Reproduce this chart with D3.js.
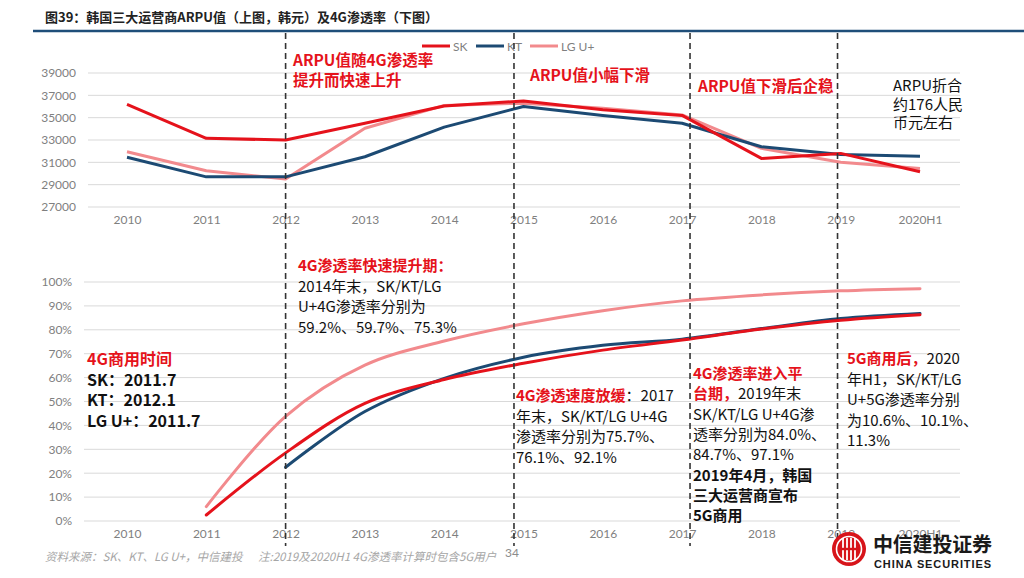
<!DOCTYPE html>
<html>
<head>
<meta charset="utf-8">
<script src="https://d3js.org/d3.v7.min.js"></script>
<style>
  body { margin: 0; background: #fff; }
  svg { display: block; font-family: "Noto Sans CJK SC", sans-serif; }
</style>
</head>
<body>
<div id="chart"></div>
<script>
// categories and values
const years = ['2010', '2011', '2012', '2013', '2014', '2015', '2016', '2017', '2018', '2019', '2020H1'];

const arpuSK = [36200, 33150, 33000, 34500, 36050, 36500, 35700, 35200, 31350, 31800, 30150];
const arpuKT = [31450, 29700, 29700, 31500, 34150, 36000, 35200, 34500, 32400, 31700, 31550];
const arpuLG = [31950, 30250, 29500, 34050, 36100, 36300, 35850, 35250, 32250, 31000, 30450];

const penSK = [null, 2.5, 28.5, 49.2, 59.2, 66.0, 71.5, 75.7, 80.3, 84.0, 86.3];
const penKT = [null, null, 22.5, 45.8, 59.7, 68.5, 73.5, 76.1, 80.5, 84.7, 86.8];
const penLG = [null, 6.0, 43.8, 65.2, 75.3, 82.5, 88.0, 92.1, 94.6, 96.3, 97.2];

const arpuTicks = [27000, 29000, 31000, 33000, 35000, 37000, 39000];
const penTicks = [0, 10, 20, 30, 40, 50, 60, 70, 80, 90, 100];

// period dividers, as fractional category positions
const dividers = [2, 4.88, 7.1, 8.96];

const seriesNames = ['SK', 'KT', 'LG U+'];
const colors = { 'SK': '#e5121b', 'KT': '#1c4a73', 'LG U+': '#f28a8d' };
const RED = '#e5121b';

const W = 1024, H = 578;
const svg = d3.select('#chart').append('svg')
  .attr('width', W).attr('height', H)
  .attr('viewBox', `0 0 ${W} ${H}`);

svg.append('rect').attr('width', W).attr('height', H).attr('fill', '#fff');

// title
svg.append('text')
  .attr('x', 45).attr('y', 22)
  .attr('font-size', 13).attr('font-weight', 'bold').attr('fill', '#222')
  .text('图39：韩国三大运营商ARPU值（上图，韩元）及4G渗透率（下图）');
svg.append('line')
  .attr('x1', 33).attr('x2', W).attr('y1', 31).attr('y2', 31)
  .attr('stroke', '#1f4e79').attr('stroke-width', 2.5);

// shared x
const x = d3.scalePoint().domain(years).range([127, 920]);
const xi = d3.scaleLinear().domain([0, years.length - 1]).range([127, 920]);
const gridX = [88, 960];

// ---------- top chart: ARPU ----------
const yTop = d3.scaleLinear().domain([27000, 39000]).range([207, 73]);

const topG = svg.append('g');
topG.append('g').selectAll('line').data(arpuTicks).join('line')
  .attr('x1', gridX[0]).attr('x2', gridX[1])
  .attr('y1', d => yTop(d)).attr('y2', d => yTop(d))
  .attr('stroke', '#d9d9d9').attr('stroke-width', 1);

topG.append('g').call(d3.axisLeft(yTop).tickValues(arpuTicks).tickSize(0).tickPadding(0).tickFormat(d3.format('d')))
  .attr('transform', 'translate(76,0)')
  .call(g => g.select('.domain').remove())
  .call(g => g.selectAll('text').attr('fill', '#7f7f7f').attr('font-size', 12).attr('font-family', 'Lato, sans-serif'));

topG.append('g').call(d3.axisBottom(x).tickSize(0).tickPadding(0))
  .attr('transform', 'translate(0,215)')
  .call(g => g.select('.domain').remove())
  .call(g => g.selectAll('text').attr('fill', '#7f7f7f').attr('font-size', 12).attr('font-family', 'Lato, sans-serif'));

const arpuData = { 'SK': arpuSK, 'KT': arpuKT, 'LG U+': arpuLG };
const lineTop = d3.line().x((d, i) => x(years[i])).y(d => yTop(d));
['LG U+', 'KT', 'SK'].forEach(name => {
  topG.append('path')
    .attr('d', lineTop(arpuData[name]))
    .attr('fill', 'none').attr('stroke', colors[name])
    .attr('stroke-width', 3).attr('stroke-linejoin', 'round');
});

// legend
const legend = svg.append('g').attr('transform', 'translate(422,46)');
seriesNames.forEach((name, i) => {
  const gx = [0, 54, 108][i];
  legend.append('line').attr('x1', gx).attr('x2', gx + 28).attr('y1', 0).attr('y2', 0)
    .attr('stroke', colors[name]).attr('stroke-width', 3);
  legend.append('text').attr('x', gx + 31).attr('y', 4.5)
    .attr('font-size', 12).attr('fill', '#7f7f7f').attr('font-family', 'Lato, sans-serif')
    .text(name);
});

// ---------- bottom chart: 4G penetration ----------
const yBot = d3.scaleLinear().domain([0, 100]).range([521, 282]);

const botG = svg.append('g');
botG.append('g').selectAll('line').data(penTicks).join('line')
  .attr('x1', 84).attr('x2', gridX[1])
  .attr('y1', d => yBot(d)).attr('y2', d => yBot(d))
  .attr('stroke', '#d9d9d9').attr('stroke-width', 1);

botG.append('g').call(d3.axisLeft(yBot).tickValues(penTicks).tickSize(0).tickPadding(0).tickFormat(d => d + '%'))
  .attr('transform', 'translate(72,0)')
  .call(g => g.select('.domain').remove())
  .call(g => g.selectAll('text').attr('fill', '#7f7f7f').attr('font-size', 12).attr('font-family', 'Lato, sans-serif'));

botG.append('g').call(d3.axisBottom(x).tickSize(0).tickPadding(0))
  .attr('transform', 'translate(0,529)')
  .call(g => g.select('.domain').remove())
  .call(g => g.selectAll('text').attr('fill', '#7f7f7f').attr('font-size', 12).attr('font-family', 'Lato, sans-serif'));

const penData = { 'SK': penSK, 'KT': penKT, 'LG U+': penLG };
const lineBot = d3.line()
  .defined(d => d != null)
  .x((d, i) => x(years[i])).y(d => yBot(d))
  .curve(d3.curveCatmullRom.alpha(0.5));
['LG U+', 'KT', 'SK'].forEach(name => {
  botG.append('path')
    .attr('d', lineBot(penData[name]))
    .attr('fill', 'none').attr('stroke', colors[name])
    .attr('stroke-width', 3).attr('stroke-linecap', 'round');
});

// dashed dividers
svg.append('g').selectAll('line').data(dividers).join('line')
  .attr('x1', d => xi(d)).attr('x2', d => xi(d))
  .attr('y1', 33).attr('y2', 546)
  .attr('stroke', '#333').attr('stroke-width', 1.6).attr('stroke-dasharray', '6,4');

// ---------- annotations ----------
function note(x0, y0, lh, size, lines) {
  const t = svg.append('text').attr('x', x0).attr('y', y0).attr('font-size', size);
  lines.forEach((segs, i) => {
    segs.forEach((s, j) => {
      const ts = t.append('tspan').text(s[0])
        .attr('fill', s[1] === 'r' ? RED : '#111')
        .attr('font-weight', s[2] ? 'bold' : 'normal');
      if (j === 0) ts.attr('x', x0).attr('dy', i === 0 ? 0 : lh);
    });
  });
}

note(293, 66, 20, 15.5, [[['ARPU值随4G渗透率', 'r', 1]], [['提升而快速上升', 'r', 1]]]);
note(530, 81, 20, 15.5, [[['ARPU值小幅下滑', 'r', 1]]]);
note(698, 92, 20, 15.5, [[['ARPU值下滑后企稳', 'r', 1]]]);
note(893, 91, 18.5, 15, [[['ARPU折合', 'k']], [['约176人民', 'k']], [['币元左右', 'k']]]);

note(87, 365, 20.7, 16, [
  [['4G商用时间', 'r', 1]],
  [['SK：2011.7', 'k', 1]],
  [['KT：2012.1', 'k', 1]],
  [['LG U+：2011.7', 'k', 1]]
]);

note(298, 271, 20.7, 15, [
  [['4G渗透率快速提升期：', 'r', 1]],
  [['2014年末，SK/KT/LG', 'k']],
  [['U+4G渗透率分别为', 'k']],
  [['59.2%、59.7%、75.3%', 'k']]
]);

note(516, 401, 20.7, 15, [
  [['4G渗透速度放缓', 'r', 1], ['：2017', 'k']],
  [['年末，SK/KT/LG U+4G', 'k']],
  [['渗透率分别为75.7%、', 'k']],
  [['76.1%、92.1%', 'k']]
]);

note(693, 379, 20.3, 15, [
  [['4G渗透率进入平', 'r', 1]],
  [['台期，', 'r', 1], ['2019年末', 'k']],
  [['SK/KT/LG U+4G渗', 'k']],
  [['透率分别为84.0%、', 'k']],
  [['84.7%、97.1%', 'k']],
  [['2019年4月，韩国', 'k', 1]],
  [['三大运营商宣布', 'k', 1]],
  [['5G商用', 'k', 1]]
]);

note(847, 364, 20.5, 15, [
  [['5G商用后，', 'r', 1], ['2020', 'k']],
  [['年H1，SK/KT/LG', 'k']],
  [['U+5G渗透率分别', 'k']],
  [['为10.6%、10.1%、', 'k']],
  [['11.3%', 'k']]
]);

// ---------- footer ----------
svg.append('text').attr('x', 45).attr('y', 561)
  .attr('font-size', 11.5).attr('font-style', 'italic').attr('fill', '#a6a6a6')
  .text('资料来源：SK、KT、LG U+，中信建投');
svg.append('text').attr('x', 258).attr('y', 561)
  .attr('font-size', 11.5).attr('font-style', 'italic').attr('fill', '#a6a6a6')
  .text('注:2019及2020H1 4G渗透率计算时包含5G用户');
svg.append('text').attr('x', 505).attr('y', 557)
  .attr('font-size', 12).attr('fill', '#8c8c8c').attr('font-family', 'Lato, sans-serif')
  .text('34');

// logo
const logo = svg.append('g').attr('transform', 'translate(849,549)');
logo.append('circle').attr('r', 17).attr('fill', '#d7141a');
logo.append('circle').attr('r', 12.5).attr('fill', 'none').attr('stroke', '#fff').attr('stroke-width', 1.6);
[-6, -2, 2, 6].forEach(dx => {
  logo.append('rect').attr('x', dx - 0.9).attr('y', -11).attr('width', 1.8).attr('height', 22).attr('fill', '#fff');
});
logo.append('rect').attr('x', -7).attr('y', -1.2).attr('width', 14).attr('height', 2.4).attr('fill', '#d7141a');
svg.append('text').attr('x', 873).attr('y', 552)
  .attr('font-size', 20).attr('font-weight', 'bold').attr('fill', '#1a1a1a')
  .attr('textLength', 119)
  .text('中信建投证券');
svg.append('text').attr('x', 874).attr('y', 568)
  .attr('font-size', 11).attr('font-weight', 'bold').attr('fill', '#1a1a1a')
  .attr('font-family', '"Liberation Sans", Arial, sans-serif')
  .attr('textLength', 117)
  .text('CHINA SECURITIES');
</script>
</body>
</html>
